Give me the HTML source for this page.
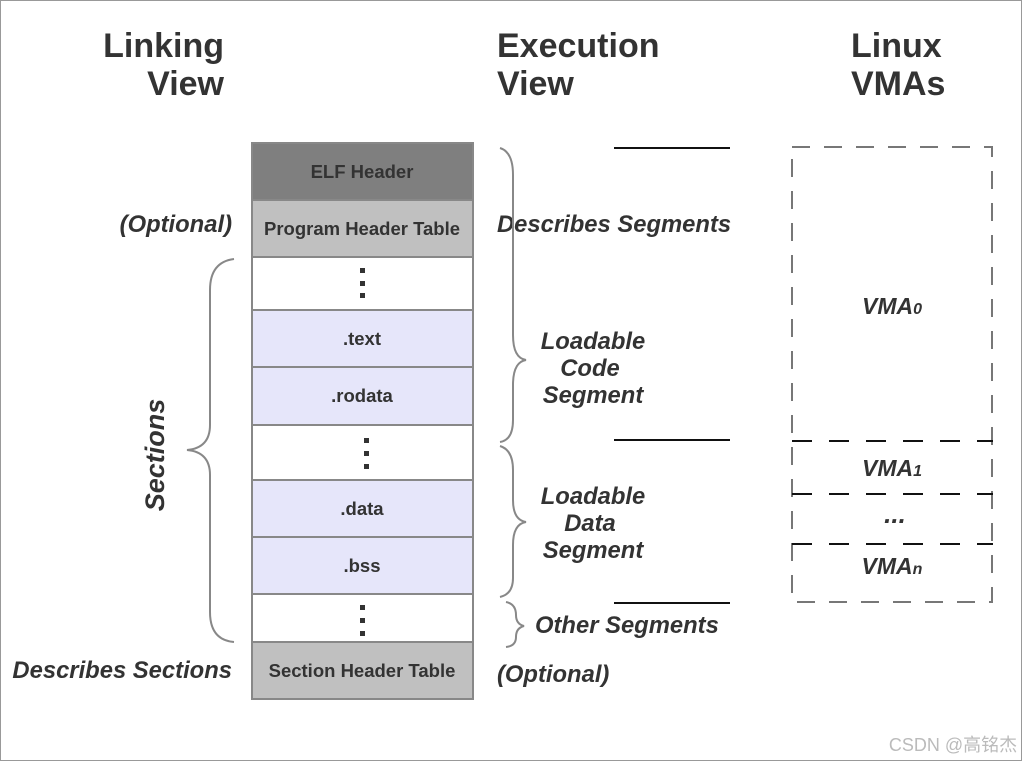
<!DOCTYPE html>
<html><head><meta charset="utf-8"><style>
body{margin:0;background:#fff}
svg{display:block}
text{font-family:"Liberation Sans",sans-serif;font-weight:bold;fill:#333}
.i{font-style:italic}
</style></head><body>
<svg width="1024" height="762" viewBox="0 0 1024 762">
<rect x="0.5" y="0.5" width="1021" height="760" fill="#fff" stroke="#999"/>
<text x="224" y="57" font-size="34" text-anchor="end">Linking</text>
<text x="224" y="95" font-size="34" text-anchor="end">View</text>
<text x="497" y="57" font-size="34">Execution</text>
<text x="497" y="95" font-size="34">View</text>
<text x="851" y="57" font-size="34">Linux</text>
<text x="851" y="95" font-size="34">VMAs</text>
<g stroke="#888" stroke-width="2">
<rect x="252" y="143" width="221" height="57" fill="#7f7f7f"/>
<rect x="252" y="200" width="221" height="57" fill="#c0c0c0"/>
<rect x="252" y="257" width="221" height="53" fill="#fff"/>
<rect x="252" y="310" width="221" height="57" fill="#e6e6fa"/>
<rect x="252" y="367" width="221" height="58" fill="#e6e6fa"/>
<rect x="252" y="425" width="221" height="55" fill="#fff"/>
<rect x="252" y="480" width="221" height="57" fill="#e6e6fa"/>
<rect x="252" y="537" width="221" height="57" fill="#e6e6fa"/>
<rect x="252" y="594" width="221" height="48" fill="#fff"/>
<rect x="252" y="642" width="221" height="57" fill="#c0c0c0"/>
</g>
<g font-size="18.5" text-anchor="middle">
<text x="362" y="178">ELF Header</text>
<text x="362" y="235">Program Header Table</text>
<text x="362" y="345">.text</text>
<text x="362" y="402">.rodata</text>
<text x="362" y="515">.data</text>
<text x="362" y="572">.bss</text>
<text x="362" y="677">Section Header Table</text>
</g>
<g fill="#333">
<rect x="360" y="268" width="5" height="5"/><rect x="360" y="281" width="5" height="5"/><rect x="360" y="293" width="5" height="5"/>
<rect x="364" y="438" width="5" height="5"/><rect x="364" y="451" width="5" height="5"/><rect x="364" y="464" width="5" height="5"/>
<rect x="360" y="605" width="5" height="5"/><rect x="360" y="618" width="5" height="5"/><rect x="360" y="631" width="5" height="5"/>
</g>
<g font-size="23.8">
<text x="232" y="232" text-anchor="end" class="i">(Optional)</text>
<text x="232" y="678" text-anchor="end" class="i">Describes Sections</text>
<text x="497" y="232" class="i">Describes Segments</text>
<text x="593" y="349" text-anchor="middle" class="i">Loadable</text>
<text x="590" y="376" text-anchor="middle" class="i">Code</text>
<text x="593" y="403" text-anchor="middle" class="i">Segment</text>
<text x="593" y="504" text-anchor="middle" class="i">Loadable</text>
<text x="590" y="531" text-anchor="middle" class="i">Data</text>
<text x="593" y="558" text-anchor="middle" class="i">Segment</text>
<text x="535" y="633" class="i">Other Segments</text>
<text x="497" y="682" class="i">(Optional)</text>
<text x="164" y="455" text-anchor="middle" transform="rotate(-90 164 455)" font-size="27" class="i">Sections</text>
</g>
<g fill="none" stroke="#888" stroke-width="2">
<path d="M234,259 Q210,262 210,290 L210,425 Q210,448 187,450 Q210,452 210,475 L210,612 Q210,640 234,642"/>
<path d="M500,148 Q513,152 513,175 L513,335 Q513,358 526,360 Q513,362 513,385 L513,420 Q513,440 500,442"/>
<path d="M500,446 Q513,450 513,470 L513,500 Q513,520 526,522 Q513,524 513,545 L513,578 Q513,594 500,597"/>
<path d="M506,602 Q516,604 516,615 Q516,624 524,626 Q516,628 516,637 Q516,646 506,647"/>
</g>
<g stroke="#111" stroke-width="2">
<line x1="614" y1="148" x2="730" y2="148"/>
<line x1="614" y1="440" x2="730" y2="440"/>
<line x1="614" y1="603" x2="730" y2="603"/>
</g>
<g stroke="#777" stroke-width="2" fill="none" stroke-dasharray="18,14">
<rect x="792" y="147" width="200" height="455"/>
</g>
<g stroke="#111" stroke-width="2" stroke-dasharray="20,17">
<line x1="792" y1="441" x2="993" y2="441"/>
<line x1="792" y1="494" x2="993" y2="494"/>
<line x1="792" y1="544" x2="993" y2="544"/>
</g>
<g font-size="23" text-anchor="middle">
<text x="892" y="314" class="i">VMA<tspan font-size="16">0</tspan></text>
<text x="892" y="476" class="i">VMA<tspan font-size="16">1</tspan></text>
<text x="895" y="523" class="i" font-size="26">...</text>
<text x="892" y="574" class="i">VMA<tspan font-size="16">n</tspan></text>
</g>
<text x="953" y="751" font-size="18" text-anchor="middle" style="font-weight:normal;fill:#bbb;font-family:'Liberation Sans','Noto Sans CJK SC',sans-serif">CSDN @高铭杰</text>
</svg>
</body></html>
